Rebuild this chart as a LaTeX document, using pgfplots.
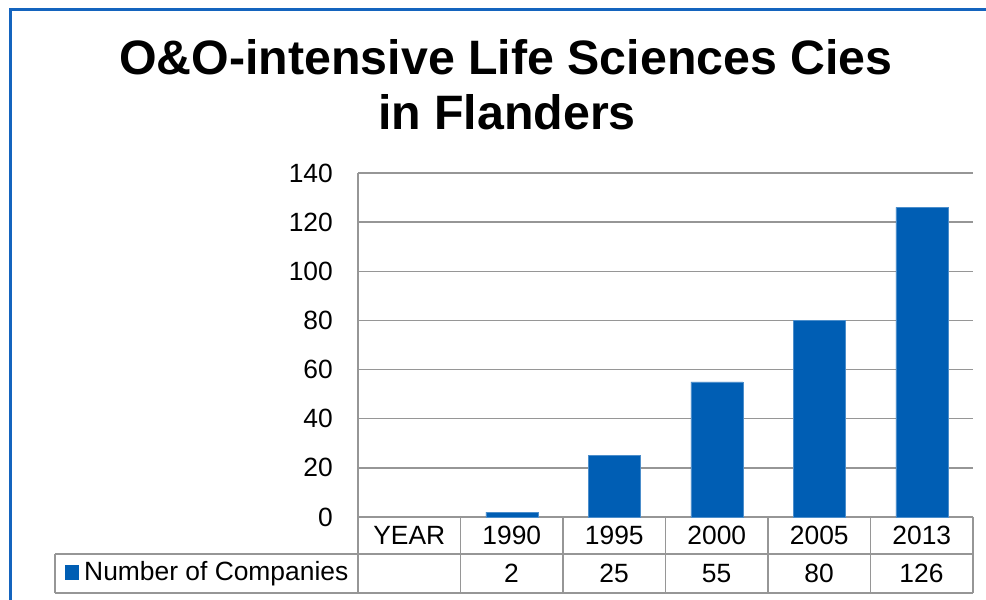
\documentclass[border=0pt]{standalone}
\usepackage{pgfplots}
\pgfplotsset{compat=1.18}
\usepackage{fontspec}
\setmainfont{Liberation Sans}
\definecolor{barblue}{RGB}{0,94,180}
\definecolor{frameblue}{RGB}{20,100,190}
\definecolor{gridgray}{RGB}{150,150,150}
\begin{document}
\begin{tikzpicture}[x=1bp,y=1bp]
\useasboundingbox (0,0) rectangle (986,600);
\fill[white] (0,0) rectangle (986,600);
% frame
\draw[frameblue, line width=2.2bp] (10.5,0) -- (10.5,590.5) -- (986,590.5);
% title
\node[anchor=base, inner sep=0, font=\bfseries\fontsize{48.5}{56}\selectfont] at (506,525) {O\&O-intensive Life Sciences Cies};
\node[anchor=base, inner sep=0, font=\bfseries\fontsize{48.5}{56}\selectfont] at (507,470) {in Flanders};
\begin{axis}[
  at={(358bp,83bp)}, anchor=south west,
  scale only axis, width=615bp, height=344bp,
  xmin=-0.5, xmax=5.5, ymin=0, ymax=140,
  ytick={0,20,...,140},
  xtick={0,...,5},
  xticklabels={YEAR,1990,1995,2000,2005,2013},
  major tick length=0pt,
  ymajorgrids, grid style={draw=gridgray, line width=1.5bp},
  axis x line*=bottom, axis y line*=left,
  axis line style={draw=gridgray, line width=1.5bp, -},
  tick label style={font=\fontsize{26.5}{30}\selectfont},
  /pgf/number format/assume math mode=true,
  yticklabel style={anchor=east, inner sep=0pt, xshift=-25bp},
  xticklabel style={anchor=center, inner sep=0pt, yshift=-18.5bp},
  clip=false,
]
\addplot[ybar, bar width=52bp, fill=barblue, draw=barblue!70!white, line width=0.5bp] coordinates {(1,2) (2,25) (3,55) (4,80) (5,126)};
\end{axis}
% data table
\begin{scope}[draw=gridgray, line width=1.5bp]
\draw (358,83) -- (358,7);
\foreach \x in {460.5,563,665.5,768,870.5,973} \draw (\x,83) -- (\x,7);
\draw (55,46) -- (973,46);
\draw (55,7) -- (973,7);
\draw (55,46) -- (55,7);
\end{scope}
\fill[barblue] (65,35) rectangle (79,20);
\node[anchor=west, inner sep=0, font=\fontsize{26.5}{30}\selectfont] at (84,26.5) {Number of Companies};
\foreach \x/\v in {511.5/2,614/25,716.5/55,819/80,921.5/126}
  \node[anchor=center, inner sep=0, font=\fontsize{26.5}{30}\selectfont] at (\x,26.5) {\v};
\end{tikzpicture}
\end{document}
